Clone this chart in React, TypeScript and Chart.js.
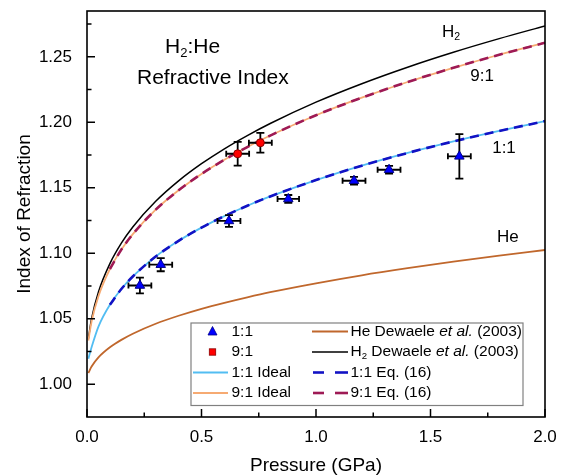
import React, { useEffect, useRef } from "react";
import { Chart, registerables } from "chart.js";

Chart.register(...registerables);

const FAMILY = "'Liberation Sans', Arial, Helvetica, sans-serif";

// Pressure samples (GPa) for the model curves
const curvePressure = [0.006, 0.02, 0.05, 0.1, 0.15, 0.2, 0.3, 0.4, 0.5, 0.6, 0.7, 0.8, 1.0, 1.2, 1.4, 1.6, 1.8, 2.0];

// Dewaele et al. (2003) pure-component refractive indices
const h2Dewaele = [1.0349, 1.0501, 1.0705, 1.0921, 1.1077, 1.1201, 1.1397, 1.1553, 1.1684, 1.1798, 1.1899, 1.1991, 1.2154, 1.2295, 1.2421, 1.2535, 1.2639, 1.2736];
const heDewaele = [1.0086, 1.0135, 1.0205, 1.0282, 1.0339, 1.0386, 1.0462, 1.0523, 1.0576, 1.0622, 1.0664, 1.0703, 1.0771, 1.0832, 1.0886, 1.0936, 1.0982, 1.1025];

// Ideal-mixing curves
const ideal91 = [1.0334, 1.0479, 1.0673, 1.088, 1.1028, 1.1146, 1.1333, 1.1481, 1.1606, 1.1714, 1.1811, 1.1899, 1.2054, 1.2188, 1.2308, 1.2416, 1.2516, 1.2608];
const ideal11 = [1.0195, 1.0282, 1.044, 1.0607, 1.0727, 1.0823, 1.0975, 1.1095, 1.1196, 1.1284, 1.1363, 1.1434, 1.1559, 1.1669, 1.1766, 1.1854, 1.1934, 1.2009];

// Eq. (16) curves
const eq16Pressure = [0.1, 0.15, 0.2, 0.3, 0.4, 0.5, 0.6, 0.7, 0.8, 1.0, 1.2, 1.4, 1.6, 1.8, 2.0];
const eq16Ratio91 = [1.088, 1.1028, 1.1146, 1.1333, 1.1481, 1.1606, 1.1714, 1.1811, 1.1899, 1.2054, 1.2188, 1.2308, 1.2416, 1.2516, 1.2608];
const eq16Ratio11 = [1.0607, 1.0727, 1.0823, 1.0975, 1.1095, 1.1196, 1.1284, 1.1363, 1.1434, 1.1559, 1.1669, 1.1766, 1.1854, 1.1934, 1.2009];

// Measured 1:1 mixture
const mix11P = [0.231, 0.322, 0.62, 0.879, 1.166, 1.319, 1.626];
const mix11N = [1.0754, 1.0913, 1.1247, 1.1415, 1.1554, 1.1638, 1.174];
const mix11PErr = [0.05, 0.05, 0.05, 0.047, 0.05, 0.05, 0.05];
const mix11NErr = [0.006, 0.005, 0.0045, 0.003, 0.003, 0.003, 0.017];

// Measured 9:1 mixture
const mix91P = [0.658, 0.757];
const mix91N = [1.176, 1.1844];
const mix91PErr = [0.05, 0.05];
const mix91NErr = [0.009, 0.0075];

const xTicks = [0, 0.5, 1.0, 1.5, 2.0];
const xMinorTicks = [0.25, 0.75, 1.25, 1.75];
const yTicks = [1.0, 1.05, 1.1, 1.15, 1.2, 1.25];
const yMinorTicks = [1.025, 1.075, 1.125, 1.175, 1.225, 1.275];

// Curve labels inside the plot
const curveLabelText = ["H2", "9:1", "1:1", "He"];
const curveLabelP = [1.59, 1.725, 1.821, 1.838];
const curveLabelN = [1.269, 1.2354, 1.1804, 1.1125];

const COLORS = {
  h2: "#000000",
  he: "#C0672C",
  ideal91: "#F6AA72",
  ideal11: "#52BDF2",
  eq91: "#9E1A55",
  eq11: "#1212C4",
  tri: "#0000FF",
  sq: "#FF0000",
};

type Run = { text: string; italic?: boolean; sub?: boolean };

function drawRuns(ctx: CanvasRenderingContext2D, x: number, y: number, runs: Run[], size: number, align: "left" | "center" = "left") {
  const widthOf = (r: Run) => {
    const fs = r.sub ? size * 0.62 : size;
    ctx.font = `${r.italic ? "italic " : ""}${fs}px ${FAMILY}`;
    return ctx.measureText(r.text).width;
  };
  let cx = x;
  if (align === "center") {
    const total = runs.reduce((s, r) => s + widthOf(r), 0);
    cx = x - total / 2;
  }
  ctx.textAlign = "left";
  ctx.textBaseline = "middle";
  for (const r of runs) {
    const w = widthOf(r);
    ctx.fillText(r.text, cx, y + (r.sub ? size * 0.3 : 0));
    cx += w;
  }
}

function labelRuns(t: string): Run[] {
  if (t === "H2") return [{ text: "H" }, { text: "2", sub: true }];
  return [{ text: t }];
}

const errorBarPlugin = {
  id: "errorBars",
  beforeDatasetDraw(chart: any, args: any) {
    const sets: Record<number, [number[], number[], number[], number[]]> = {
      0: [mix11P, mix11N, mix11PErr, mix11NErr],
      1: [mix91P, mix91N, mix91PErr, mix91NErr],
    };
    const s = sets[args.index];
    if (!s) return;
    const [px, py, ex, ey] = s;
    const { ctx } = chart;
    const xs = chart.scales.x;
    const ys = chart.scales.y;
    ctx.save();
    ctx.strokeStyle = "#000";
    ctx.lineWidth = 1.8;
    for (let i = 0; i < px.length; i++) {
      const cx = xs.getPixelForValue(px[i]);
      const cy = ys.getPixelForValue(py[i]);
      const x0 = xs.getPixelForValue(px[i] - ex[i]);
      const x1 = xs.getPixelForValue(px[i] + ex[i]);
      const y0 = ys.getPixelForValue(py[i] + ey[i]);
      const y1 = ys.getPixelForValue(py[i] - ey[i]);
      ctx.beginPath();
      ctx.moveTo(x0, cy);
      ctx.lineTo(x1, cy);
      ctx.moveTo(x0, cy - 3);
      ctx.lineTo(x0, cy + 3);
      ctx.moveTo(x1, cy - 3);
      ctx.lineTo(x1, cy + 3);
      ctx.moveTo(cx, y0);
      ctx.lineTo(cx, y1);
      ctx.moveTo(cx - 4, y0);
      ctx.lineTo(cx + 4, y0);
      ctx.moveTo(cx - 4, y1);
      ctx.lineTo(cx + 4, y1);
      ctx.stroke();
    }
    ctx.restore();
  },
};

const decorPlugin = {
  id: "decor",
  afterDraw(chart: any) {
    const { ctx, chartArea: a } = chart;
    const xs = chart.scales.x;
    const ys = chart.scales.y;
    ctx.save();

    // frame
    ctx.strokeStyle = "#000";
    ctx.lineWidth = 1.6;
    ctx.strokeRect(a.left, a.top, a.right - a.left, a.bottom - a.top);

    // inward ticks
    ctx.lineWidth = 1.5;
    ctx.beginPath();
    for (const v of xTicks) {
      const x = xs.getPixelForValue(v);
      ctx.moveTo(x, a.bottom);
      ctx.lineTo(x, a.bottom - 8);
    }
    for (const v of xMinorTicks) {
      const x = xs.getPixelForValue(v);
      ctx.moveTo(x, a.bottom);
      ctx.lineTo(x, a.bottom - 4.5);
    }
    for (const v of yTicks) {
      const y = ys.getPixelForValue(v);
      ctx.moveTo(a.left, y);
      ctx.lineTo(a.left + 8, y);
    }
    for (const v of yMinorTicks) {
      const y = ys.getPixelForValue(v);
      ctx.moveTo(a.left, y);
      ctx.lineTo(a.left + 4.5, y);
    }
    ctx.stroke();

    // title
    ctx.fillStyle = "#000";
    drawRuns(ctx, 165, 47, [{ text: "H" }, { text: "2", sub: true }, { text: ":He" }], 21);
    drawRuns(ctx, 137, 78, [{ text: "Refractive Index" }], 21);

    // curve labels
    for (let i = 0; i < curveLabelText.length; i++) {
      drawRuns(ctx, xs.getPixelForValue(curveLabelP[i]), ys.getPixelForValue(curveLabelN[i]), labelRuns(curveLabelText[i]), 17, "center");
    }

    // legend
    const L = 191, T = 323, R = 523, B = 405.5;
    ctx.fillStyle = "#fff";
    ctx.fillRect(L, T, R - L, B - T);
    ctx.strokeStyle = "#808080";
    ctx.lineWidth = 1.2;
    ctx.strokeRect(L, T, R - L, B - T);

    const rows = [331.5, 352, 372.5, 393];
    const fs = 15.5;

    // triangle marker
    ctx.beginPath();
    ctx.moveTo(212.5, rows[0] - 5);
    ctx.lineTo(217, rows[0] + 3.5);
    ctx.lineTo(208, rows[0] + 3.5);
    ctx.closePath();
    ctx.fillStyle = COLORS.tri;
    ctx.fill();
    ctx.strokeStyle = "#00008a";
    ctx.lineWidth = 0.8;
    ctx.stroke();
    // square marker
    ctx.fillStyle = COLORS.sq;
    ctx.fillRect(209.3, rows[1] - 3.2, 6.4, 6.4);
    ctx.strokeStyle = "#8a0000";
    ctx.strokeRect(209.3, rows[1] - 3.2, 6.4, 6.4);

    const solid = (x0: number, x1: number, y: number, c: string, w: number) => {
      ctx.strokeStyle = c;
      ctx.lineWidth = w;
      ctx.setLineDash([]);
      ctx.beginPath();
      ctx.moveTo(x0, y);
      ctx.lineTo(x1, y);
      ctx.stroke();
    };
    solid(193, 228, rows[2], COLORS.ideal11, 1.8);
    solid(193, 228, rows[3], COLORS.ideal91, 1.8);
    solid(312, 348, rows[0], COLORS.he, 1.8);
    solid(312, 348, rows[1], "#000", 1.5);
    // dashed samples
    solid(313, 324, rows[2], COLORS.eq11, 2.6);
    solid(335, 348, rows[2], COLORS.eq11, 2.6);
    solid(313, 324, rows[3], COLORS.eq91, 2.6);
    solid(335, 348, rows[3], COLORS.eq91, 2.6);

    ctx.fillStyle = "#000";
    drawRuns(ctx, 231.5, rows[0], [{ text: "1:1" }], fs);
    drawRuns(ctx, 231.5, rows[1], [{ text: "9:1" }], fs);
    drawRuns(ctx, 231.5, rows[2], [{ text: "1:1 Ideal" }], fs);
    drawRuns(ctx, 231.5, rows[3], [{ text: "9:1 Ideal" }], fs);
    drawRuns(ctx, 350.5, rows[0], [{ text: "He Dewaele " }, { text: "et al.", italic: true }, { text: " (2003)" }], fs);
    drawRuns(ctx, 350.5, rows[1], [{ text: "H" }, { text: "2", sub: true }, { text: " Dewaele " }, { text: "et al.", italic: true }, { text: " (2003)" }], fs);
    drawRuns(ctx, 350.5, rows[2], [{ text: "1:1 Eq. (16)" }], fs);
    drawRuns(ctx, 350.5, rows[3], [{ text: "9:1 Eq. (16)" }], fs);

    ctx.restore();
  },
};

function curve(label: string, xsv: number[], ysv: number[], color: string, width: number, dash: number[] = []) {
  return {
    type: "line" as const,
    label,
    data: xsv.map((x, i) => ({ x, y: ysv[i] })),
    borderColor: color,
    borderWidth: width,
    borderDash: dash,
    pointRadius: 0,
    fill: false,
    cubicInterpolationMode: "monotone" as const,
  };
}

export default function App() {
  const ref = useRef<HTMLCanvasElement | null>(null);

  useEffect(() => {
    if (!ref.current) return;
    const chart = new Chart(ref.current, {
      type: "scatter",
      data: {
        datasets: [
          {
            type: "scatter",
            label: "1:1",
            data: mix11P.map((x, i) => ({ x, y: mix11N[i] })),
            pointStyle: "triangle",
            pointRadius: 5.5,
            backgroundColor: COLORS.tri,
            borderColor: "#00008a",
            borderWidth: 1,
          },
          {
            type: "scatter",
            label: "9:1",
            data: mix91P.map((x, i) => ({ x, y: mix91N[i] })),
            pointStyle: "circle",
            pointRadius: 4,
            backgroundColor: COLORS.sq,
            borderColor: "#8a0000",
            borderWidth: 1,
          },
          curve("1:1 Eq. (16)", eq16Pressure, eq16Ratio11, COLORS.eq11, 2.6, [9, 6]),
          curve("9:1 Eq. (16)", eq16Pressure, eq16Ratio91, COLORS.eq91, 2.6, [9, 6]),
          curve("1:1 Ideal", curvePressure, ideal11, COLORS.ideal11, 1.8),
          curve("9:1 Ideal", curvePressure, ideal91, COLORS.ideal91, 1.8),
          curve("H2 Dewaele et al. (2003)", curvePressure, h2Dewaele, COLORS.h2, 1.5),
          curve("He Dewaele et al. (2003)", curvePressure, heDewaele, COLORS.he, 1.8),
        ] as any,
      },
      options: {
        animation: false,
        responsive: false,
        maintainAspectRatio: false,
        layout: { padding: { left: 0, right: 29, top: 11, bottom: 0 } },
        plugins: { legend: { display: false }, tooltip: { enabled: false } },
        scales: {
          x: {
            type: "linear",
            min: 0,
            max: 2,
            afterBuildTicks: (s: any) => {
              s.ticks = xTicks.map((v) => ({ value: v }));
            },
            afterFit: (s: any) => {
              s.height = 59;
              s.paddingLeft = 0;
              s.paddingRight = 0;
            },
            grid: { display: false, drawTicks: false },
            border: { display: false },
            ticks: {
              padding: 10,
              color: "#000",
              font: { family: FAMILY, size: 17 },
              maxRotation: 0,
              callback: (v: any) => Number(v).toFixed(1),
            },
            title: {
              display: true,
              text: "Pressure (GPa)",
              color: "#000",
              font: { family: FAMILY, size: 19, lineHeight: 1 },
              padding: { top: 0, bottom: 1 },
            },
          },
          y: {
            type: "linear",
            min: 0.975,
            max: 1.285,
            afterBuildTicks: (s: any) => {
              s.ticks = yTicks.map((v) => ({ value: v }));
            },
            afterFit: (s: any) => {
              s.width = 87;
              s.paddingTop = 0;
              s.paddingBottom = 0;
            },
            grid: { display: false, drawTicks: false },
            border: { display: false },
            ticks: {
              padding: 15,
              color: "#000",
              font: { family: FAMILY, size: 17 },
              callback: (v: any) => Number(v).toFixed(2),
            },
            title: {
              display: true,
              text: "Index of Refraction",
              color: "#000",
              font: { family: FAMILY, size: 19, lineHeight: 1 },
              padding: { top: 15, bottom: 0 },
            },
          },
        },
      },
      plugins: [errorBarPlugin, decorPlugin],
    });
    return () => chart.destroy();
  }, []);

  return (
    <div style={{ position: "fixed", left: 0, top: 0, width: 574, height: 476, background: "#fff" }}>
      <canvas ref={ref} width={574} height={476} style={{ display: "block" }} />
    </div>
  );
}
